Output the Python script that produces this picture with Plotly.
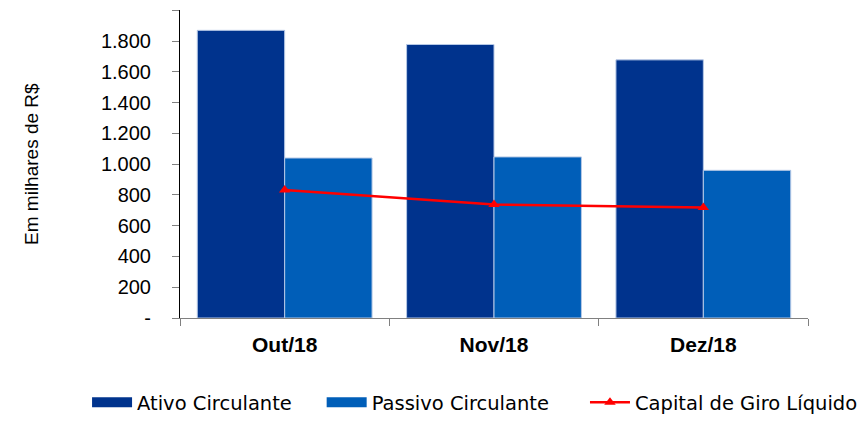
import plotly.graph_objects as go

categories = ["Out/18", "Nov/18", "Dez/18"]
ativo = [1870, 1778, 1678]
passivo = [1040, 1047, 960]
capital = [832, 738, 718]
y_tickvals = [0, 200, 400, 600, 800, 1000, 1200, 1400, 1600, 1800, 2000]
y_ticktext = ["-", "200", "400", "600", "800", "1.000", "1.200", "1.400", "1.600", "1.800", "2.000"]
legend_names = ["Ativo Circulante", "Passivo Circulante", "Capital de Giro Líquido"]

C_ATIVO = "#00338D"
C_PASSIVO = "#005EB8"
C_LINE = "#FF0000"
NB = "\u00a0"

fig = go.Figure()
fig.add_trace(go.Bar(x=categories, y=ativo, name=legend_names[0], showlegend=False,
                     marker=dict(color=C_ATIVO, line=dict(color="#B7C9E6", width=1))))
fig.add_trace(go.Bar(x=categories, y=passivo, name=legend_names[1], showlegend=False,
                     marker=dict(color=C_PASSIVO, line=dict(color="#B7C9E6", width=1))))
fig.add_trace(go.Scatter(x=categories, y=capital, name=legend_names[2],
                         mode="lines+markers", showlegend=False,
                         line=dict(color=C_LINE, width=2.5),
                         marker=dict(symbol="triangle-up", size=10, color=C_LINE)))
# legend entries (wide swatches like the reference)
fig.add_trace(go.Scatter(x=[None], y=[None], name=legend_names[0] + NB * 4, mode="lines",
                         line=dict(color=C_ATIVO, width=10)))
fig.add_trace(go.Scatter(x=[None], y=[None], name=legend_names[1] + NB * 5, mode="lines",
                         line=dict(color=C_PASSIVO, width=10)))
fig.add_trace(go.Scatter(x=[None], y=[None], name=legend_names[2],
                         mode="lines+markers",
                         line=dict(color=C_LINE, width=2.5),
                         marker=dict(symbol="triangle-up", size=10, color=C_LINE)))

fig.update_layout(
    width=868, height=422,
    margin=dict(l=180, r=60, t=0, b=102),
    paper_bgcolor="white", plot_bgcolor="white",
    barmode="group", bargap=0.165, bargroupgap=0,
    font=dict(family="Liberation Sans, Arial, sans-serif", size=20, color="black"),
    showlegend=True,
    legend=dict(orientation="h", xref="paper", x=-0.148, xanchor="left",
                yref="paper", y=-0.327, yanchor="bottom",
                font=dict(family="DejaVu Sans, sans-serif", size=19.5),
                itemwidth=40, traceorder="normal"),
    xaxis=dict(type="category", tickson="boundaries", ticks="outside", ticklen=7,
               tickcolor="#808080", showline=True, linecolor="#808080", linewidth=1,
               tickfont=dict(size=21, family="Liberation Sans, Arial, sans-serif"),
               ticklabelstandoff=8, showgrid=False),
    yaxis=dict(range=[0, 2000], domain=[0, 0.9675],
               tickvals=y_tickvals, ticktext=y_ticktext,
               ticks="outside", ticklen=7, tickcolor="#808080",
               showline=True, linecolor="black", linewidth=1, showgrid=False,
               zeroline=False, ticklabelstandoff=17,
               title=dict(text="Em milhares de R$", standoff=57, font=dict(size=19)),
               tickfont=dict(size=20)),
)
fig.update_xaxes(tickprefix="<b>", ticksuffix="</b>")

fig.write_html("out.html")
